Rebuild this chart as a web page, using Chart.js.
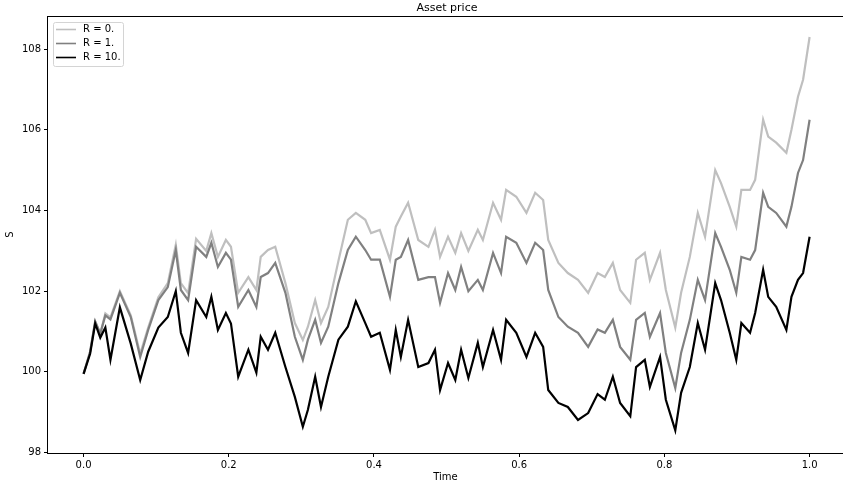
<!DOCTYPE html>
<html>
<head>
<meta charset="utf-8">
<script src="https://cdn.jsdelivr.net/npm/chart.js@4.4.1/dist/chart.umd.min.js"></script>
<style>
  html, body { margin:0; padding:0; background:#fff; overflow:hidden; }
  #wrap { width:843px; height:489px; position:relative; }
</style>
</head>
<body>
<div id="wrap"><canvas id="price-chart"></canvas></div>
<script>
// --- data ---
const times = [0.000,0.009,0.016,0.023,0.030,0.037,0.050,0.065,0.078,0.089,
  0.103,0.116,0.127,0.134,0.144,0.155,0.169,0.176,0.185,0.196,
  0.203,0.213,0.227,0.238,0.244,0.254,0.264,0.278,0.291,0.302,
  0.309,0.319,0.327,0.337,0.351,0.364,0.375,0.388,0.396,0.408,
  0.422,0.430,0.437,0.447,0.461,0.475,0.484,0.491,0.502,0.512,
  0.520,0.530,0.543,0.550,0.564,0.575,0.582,0.596,0.610,0.622,
  0.633,0.640,0.654,0.667,0.681,0.695,0.708,0.718,0.729,0.739,
  0.753,0.761,0.773,0.780,0.794,0.802,0.815,0.823,0.835,0.846,
  0.856,0.870,0.878,0.890,0.899,0.906,0.918,0.925,0.936,0.943,
  0.954,0.968,0.975,0.984,0.991,1.000];

const priceR0 = [99.95,100.5,101.25,100.95,101.45,101.35,102.0,101.4,100.45,101.1,
  101.85,102.2,103.15,102.2,101.95,103.3,103.0,103.44,102.85,103.27,
  103.1,101.96,102.35,102.03,102.85,103.02,103.1,102.2,101.21,100.79,
  101.12,101.78,101.21,101.61,102.75,103.77,103.94,103.77,103.44,103.52,
  102.78,103.6,103.85,104.19,103.27,103.1,103.52,102.85,103.35,102.95,
  103.44,103.0,103.52,103.27,104.19,103.77,104.51,104.34,103.94,104.44,
  104.26,103.27,102.7,102.45,102.28,101.96,102.45,102.35,102.7,102.03,
  101.71,102.78,102.95,102.28,102.95,102.03,101.1,101.96,102.85,103.94,
  103.35,105.0,104.68,104.09,103.6,104.51,104.51,104.76,106.25,105.83,
  105.68,105.43,106.0,106.82,107.24,108.3];

const priceR1 = [99.95,100.5,101.25,100.95,101.4,101.3,101.96,101.36,100.37,101.04,
  101.78,102.1,103.02,102.03,101.78,103.1,102.85,103.2,102.6,102.95,
  102.78,101.61,102.03,101.61,102.35,102.45,102.7,101.96,100.87,100.3,
  100.8,101.29,100.72,101.12,102.2,103.02,103.35,103.02,102.78,102.78,
  101.86,102.78,102.85,103.27,102.28,102.35,102.35,101.71,102.45,102.03,
  102.6,102.0,102.28,102.03,102.95,102.45,103.35,103.2,102.7,103.2,
  103.02,102.03,101.36,101.12,100.97,100.62,101.05,100.97,101.29,100.62,
  100.3,101.29,101.46,100.87,101.46,100.47,99.6,100.47,101.29,102.28,
  101.78,103.44,103.1,102.53,101.96,102.85,102.78,103.02,104.44,104.09,
  103.94,103.6,104.09,104.93,105.25,106.25];

const priceR10 = [99.95,100.45,101.2,100.85,101.1,100.3,101.6,100.7,99.8,100.5,
  101.1,101.36,102.0,100.97,100.47,101.78,101.36,101.86,101.04,101.46,
  101.2,99.88,100.55,99.98,100.87,100.55,100.97,100.12,99.38,98.64,
  99.06,99.88,99.13,99.88,100.8,101.12,101.75,101.21,100.87,100.97,
  100.05,101.04,100.37,101.29,100.12,100.22,100.55,99.55,100.22,99.8,
  100.55,99.85,100.72,100.12,101.04,100.3,101.29,100.97,100.37,100.97,
  100.62,99.55,99.23,99.13,98.81,98.98,99.45,99.31,99.88,99.23,
  98.9,100.12,100.3,99.63,100.37,99.31,98.55,99.48,100.12,101.21,
  100.55,102.2,101.78,100.97,100.3,101.21,100.97,101.46,102.53,101.86,
  101.61,101.04,101.86,102.28,102.45,103.35];

const seriesLabels = ['R = 0.', 'R = 1.', 'R = 10.'];
const xTicks = [0.0, 0.2, 0.4, 0.6, 0.8, 1.0];
const yTicks = [98, 100, 102, 104, 106, 108];

const FONT = 'DejaVu Sans';
const colors = ['#bfbfbf', '#808080', '#000000'];

const toPoints = arr => arr.map((v, i) => ({ x: times[i], y: v }));

// frame + title drawn round the plot area, like matplotlib spines
const framePlugin = {
  id: 'frame',
  afterDatasetsDraw(chart) {
    const { ctx, chartArea: a } = chart;
    ctx.save();
    ctx.strokeStyle = '#000';
    ctx.lineWidth = 1;
    ctx.strokeRect(a.left - 0.5, a.top + 0.5, a.right - a.left + 1, a.bottom - a.top);
    ctx.fillStyle = '#000';
    ctx.font = '11px "' + FONT + '"';
    ctx.textAlign = 'center';
    ctx.textBaseline = 'middle';
    ctx.fillText('Asset price', (a.left + a.right + 3) / 2, 8);
    ctx.restore();
  }
};

// legend box in the upper left corner
const legendPlugin = {
  id: 'legendBox',
  afterDraw(chart) {
    const { ctx, chartArea: a } = chart;
    const x0 = a.left + 5, y0 = a.top + 6, w = 70, h = 44;
    ctx.save();
    ctx.fillStyle = 'rgba(255,255,255,0.8)';
    ctx.strokeStyle = '#d4d4d4';
    ctx.lineWidth = 1;
    ctx.beginPath();
    ctx.roundRect(x0 + 0.5, y0 + 0.5, w, h, 2);
    ctx.fill();
    ctx.stroke();
    ctx.font = '10px "' + FONT + '"';
    ctx.textBaseline = 'middle';
    seriesLabels.forEach((lab, i) => {
      const yy = y0 + 7.5 + i * 14;
      ctx.strokeStyle = colors[i];
      ctx.lineWidth = 1.6;
      ctx.beginPath();
      ctx.moveTo(x0 + 3, yy);
      ctx.lineTo(x0 + 23, yy);
      ctx.stroke();
      ctx.fillStyle = '#000';
      ctx.fillText(lab, x0 + 30, yy);
    });
    ctx.restore();
  }
};

new Chart(document.getElementById('price-chart'), {
  type: 'line',
  data: {
    datasets: seriesLabels.map((lab, i) => ({
      label: lab,
      data: toPoints([priceR0, priceR1, priceR10][i]),
      borderColor: colors[i],
      borderWidth: 2.2,
      pointRadius: 0,
      tension: 0,
      order: 3 - i
    }))
  },
  options: {
    responsive: true, maintainAspectRatio: false, animation: false,
    layout: { padding: { top: 16, left: 0, right: 0, bottom: 0 } },
    plugins: { legend: { display: false }, tooltip: { enabled: false } },
    scales: {
      x: {
        type: 'linear', min: -0.049, max: 1.046,
        afterBuildTicks: s => { s.ticks = xTicks.map(v => ({ value: v })); },
        afterFit: s => { s.height = 36; },
        ticks: { callback: v => v.toFixed(1), color: '#000', font: { family: FONT, size: 10 }, padding: 2, maxRotation: 0, autoSkip: false },
        grid: { drawOnChartArea: false, drawTicks: true, tickLength: 4, color: '#000' },
        border: { display: false },
        title: { display: true, text: 'Time', color: '#000', font: { family: FONT, size: 10 }, padding: { top: 0, bottom: 6 } }
      },
      y: {
        type: 'linear', min: 97.99, max: 108.82,
        afterBuildTicks: s => { s.ticks = yTicks.map(v => ({ value: v })); },
        afterFit: s => { s.width = 48; },
        ticks: { color: '#000', font: { family: FONT, size: 10 }, padding: 3 },
        grid: { drawOnChartArea: false, drawTicks: true, tickLength: 4, color: '#000' },
        border: { display: false },
        title: { display: true, text: 'S', color: '#000', font: { family: FONT, size: 10 }, padding: { top: 4, bottom: 0 } }
      }
    }
  },
  plugins: [framePlugin, legendPlugin]
});
</script>
</body>
</html>
